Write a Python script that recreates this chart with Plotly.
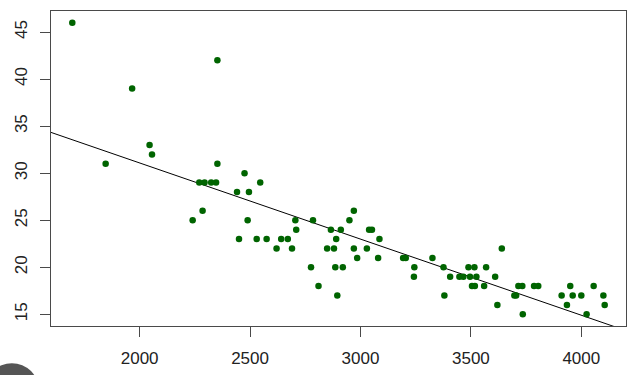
import numpy as np
import plotly.graph_objects as go

weight = [1695, 1846, 1966, 2045, 2056, 2352, 2352, 2270, 2294, 2324, 2346,
          2475, 2546, 2441, 2495, 2285, 2240, 2489, 2705, 2709,
          2450, 2530, 2575, 2641, 2671, 2620, 2690,
          2785, 2970, 2950, 2866, 2911, 3039, 3052, 2890, 3086,
          2849, 2880, 2970, 3029, 2985, 3080, 3193, 3205,
          2776, 2886, 2920, 2810, 2895,
          3326, 3244, 3242, 3376, 3406, 3380, 3489, 3516, 3569,
          3448, 3466, 3496, 3525, 3610, 3505, 3518, 3560, 3640, 3620,
          3697, 3705, 3715, 3733, 3786, 3805, 3735,
          3911, 3950, 3961, 4000, 3935, 4024, 4056, 4100, 4106]
mpg = [46, 31, 39, 33, 32, 42, 31, 29, 29, 29, 29,
       30, 29, 28, 28, 26, 25, 25, 25, 24,
       23, 23, 23, 23, 23, 22, 22,
       25, 26, 25, 24, 24, 24, 24, 23, 23,
       22, 22, 22, 22, 21, 21, 21, 21,
       20, 20, 20, 18, 17,
       21, 20, 19, 20, 19, 17, 20, 20, 20,
       19, 19, 19, 19, 19, 18, 18, 18, 22, 16,
       17, 17, 18, 18, 18, 18, 15,
       17, 18, 17, 17, 16, 15, 18, 17, 16]

x_ticks = [2000, 2500, 3000, 3500, 4000]
y_ticks = [15, 20, 25, 30, 35, 40, 45]

# R-style 4% axis padding
xmin, xmax = min(weight), max(weight)
ymin, ymax = min(mpg), max(mpg)
xpad = 0.04 * (xmax - xmin)
ypad = 0.04 * (ymax - ymin)
xr = [xmin - xpad, xmax + xpad]
yr = [ymin - ypad, ymax + ypad]

slope, intercept = np.polyfit(weight, mpg, 1)
line_x = np.array(xr)
line_y = intercept + slope * line_x

fig = go.Figure()
fig.add_trace(go.Scatter(x=line_x, y=line_y, mode="lines",
                         line=dict(color="black", width=1), hoverinfo="skip"))
fig.add_trace(go.Scatter(x=weight, y=mpg, mode="markers",
                         marker=dict(color="#006400", size=6.5, line=dict(width=0))))

axis_common = dict(showgrid=False, zeroline=False, showline=True, mirror=True,
                   linecolor="#4a4a4a", linewidth=1.2, ticks="outside",
                   ticklen=10, tickcolor="#4a4a4a", tickwidth=1, automargin=False,
                   tickfont=dict(family="Liberation Sans, Arial, sans-serif",
                                 size=17, color="#222"))
fig.update_xaxes(range=xr, tickvals=x_ticks, ticklabelstandoff=6, **axis_common)
fig.update_yaxes(range=yr, tickvals=y_ticks, tickangle=-90, ticklabelstandoff=6,
                 **axis_common)

fig.add_shape(type="circle", xref="paper", yref="paper",
              x0=-0.115, x1=-0.021, y0=-0.29, y1=-0.118,
              fillcolor="#555555", line=dict(width=0), layer="above")

fig.update_layout(width=641, height=375, showlegend=False,
                  margin=dict(l=51, r=15, t=11, b=49),
                  plot_bgcolor="white", paper_bgcolor="white")
fig.write_html("out.html", config={"displayModeBar": False},
               post_script="document.body.style.margin='0';document.body.style.overflow='hidden';")
